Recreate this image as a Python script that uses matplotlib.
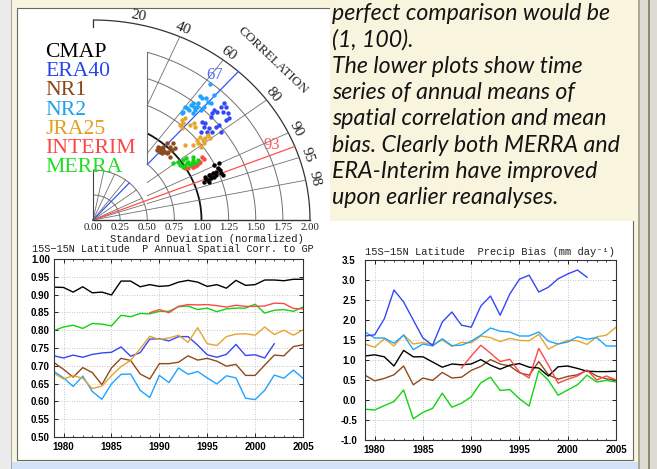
import numpy as np
import matplotlib
matplotlib.use('Agg')
import matplotlib.pyplot as plt
from matplotlib.patches import Rectangle

W, H = 657, 469

# ---------------- data ----------------
names = ['CMAP', 'ERA40', 'NR1', 'NR2', 'JRA25', 'INTERIM', 'MERRA']
line_colors = {'CMAP': '#000000', 'ERA40': '#3447f5', 'NR1': '#8e4a1c', 'NR2': '#1ea4ff',
               'JRA25': '#e6a52c', 'INTERIM': '#ff4848', 'MERRA': '#12d312'}
label_colors = {'CMAP': '#000000', 'ERA40': '#2447e8', 'NR1': '#8b4513', 'NR2': '#1ea0f0',
                'JRA25': '#e0a020', 'INTERIM': '#ff4444', 'MERRA': '#22dd22'}

# Taylor diagram points: normalized standard deviation and correlation
taylor_std = {
    'CMAP': [1.240, 1.290, 1.260, 1.266, 1.276, 1.228, 1.198, 1.156, 1.123, 1.129, 1.162, 1.191,
             1.087, 1.131, 1.216, 1.173, 1.123, 1.270],
    'ERA40': [1.679, 1.664, 1.631, 1.576, 1.610, 1.639, 1.613, 1.579, 1.536, 1.407, 1.420, 1.380,
              1.374, 1.410, 1.497, 1.469, 1.463, 1.325, 1.407, 1.563, 1.495],
    'NR1': [0.950, 0.976, 1.031, 1.020, 0.972, 0.952, 0.926, 0.917, 1.012, 1.069, 0.951, 0.958,
            0.920, 0.954, 0.946, 1.046],
    'NR2': [1.733, 1.583, 1.601, 1.672, 1.583, 1.594, 1.521, 1.461, 1.459, 1.418, 1.351, 1.364,
            1.409, 1.485, 1.521, 1.481, 1.409, 1.450, 1.415, 1.487, 1.587],
    'JRA25': [1.296, 1.279, 1.307, 1.235, 1.246, 1.329, 1.341, 1.325, 1.293, 1.252, 1.288, 1.322,
              1.240, 1.277, 1.358, 1.191, 1.135, 1.356, 1.231],
    'INTERIM': [1.190, 1.148, 1.109, 1.059, 1.022, 1.188, 1.088, 1.127, 1.067, 0.998],
    'MERRA': [0.935, 1.027, 1.113, 1.054, 1.080, 1.103, 0.987, 0.976, 1.053, 1.040, 1.135, 0.977,
              1.014, 1.103, 1.061],
}
taylor_corr = {
    'CMAP': [0.896, 0.897, 0.911, 0.929, 0.936, 0.920, 0.920, 0.921, 0.923, 0.935, 0.932, 0.933,
             0.937, 0.942, 0.929, 0.923, 0.931, 0.919],
    'ERA40': [0.717, 0.734, 0.721, 0.728, 0.742, 0.757, 0.775, 0.774, 0.717, 0.717, 0.730, 0.738,
              0.768, 0.781, 0.773, 0.801, 0.772, 0.748, 0.757, 0.711, 0.725],
    'NR1': [0.653, 0.664, 0.665, 0.699, 0.714, 0.700, 0.690, 0.646, 0.722, 0.693, 0.750, 0.715,
            0.674, 0.679, 0.636, 0.726],
    'NR2': [0.620, 0.637, 0.648, 0.665, 0.667, 0.680, 0.639, 0.634, 0.616, 0.614, 0.610, 0.611,
            0.651, 0.648, 0.670, 0.669, 0.625, 0.651, 0.602, 0.617, 0.624],
    'JRA25': [0.636, 0.651, 0.687, 0.667, 0.647, 0.641, 0.691, 0.712, 0.766, 0.769, 0.784, 0.784,
              0.784, 0.798, 0.797, 0.777, 0.751, 0.779, 0.805],
    'INTERIM': [0.848, 0.863, 0.868, 0.866, 0.861, 0.858, 0.868, 0.863, 0.868, 0.854],
    'MERRA': [0.793, 0.811, 0.824, 0.835, 0.849, 0.856, 0.844, 0.826, 0.853, 0.837, 0.849, 0.805,
              0.840, 0.839, 0.811],
}
std_circles = [0.25, 0.5, 0.75, 1.0, 1.25, 1.5, 1.75, 2.0]
std_tick_labels = ['0.00', '0.25', '0.50', '0.75', '1.00', '1.25', '1.50', '1.75', '2.00']
corr_lines = [0.2, 0.4, 0.6, 0.8, 0.9, 0.95, 0.98]
corr_labels = ['20', '40', '60', '80', '90', '95', '98']
blue_ref_corr = 0.67
red_ref_corr = 0.93

# Time series (annual means)
years_all = list(range(1979, 2006))
years_era40 = list(range(1979, 2003))
years_interim = list(range(1989, 2006))

corr_ts = {
    'CMAP': [0.921, 0.920, 0.907, 0.922, 0.905, 0.907, 0.899, 0.938, 0.938, 0.922, 0.928, 0.923,
             0.925, 0.935, 0.940, 0.935, 0.923, 0.928, 0.918, 0.940, 0.926, 0.928, 0.941, 0.941,
             0.939, 0.943, 0.943],
    'INTERIM': [0.849, 0.858, 0.849, 0.867, 0.872, 0.871, 0.872, 0.869, 0.865, 0.870, 0.867,
                0.867, 0.868, 0.876, 0.875, 0.861, 0.860],
    'MERRA': [0.799, 0.809, 0.814, 0.805, 0.819, 0.817, 0.812, 0.842, 0.838, 0.847, 0.846, 0.853,
              0.853, 0.866, 0.868, 0.858, 0.862, 0.852, 0.860, 0.862, 0.862, 0.873, 0.848, 0.856,
              0.858, 0.853, 0.865],
    'JRA25': [0.679, 0.663, 0.672, 0.665, 0.636, 0.643, 0.672, 0.698, 0.715, 0.748, 0.783, 0.774,
              0.778, 0.786, 0.766, 0.807, 0.762, 0.757, 0.782, 0.789, 0.790, 0.786, 0.809, 0.788,
              0.800, 0.786, 0.801],
    'ERA40': [0.728, 0.722, 0.730, 0.724, 0.732, 0.736, 0.738, 0.753, 0.727, 0.737, 0.775, 0.776,
              0.770, 0.782, 0.782, 0.758, 0.731, 0.724, 0.732, 0.760, 0.729, 0.731, 0.722, 0.762],
    'NR1': [0.709, 0.690, 0.668, 0.695, 0.681, 0.647, 0.694, 0.721, 0.715, 0.677, 0.663, 0.706,
            0.706, 0.710, 0.728, 0.716, 0.721, 0.713, 0.699, 0.704, 0.673, 0.673, 0.702, 0.730,
            0.728, 0.754, 0.759],
    'NR2': [0.684, 0.666, 0.642, 0.671, 0.628, 0.606, 0.649, 0.676, 0.677, 0.631, 0.611, 0.673,
            0.653, 0.694, 0.676, 0.684, 0.666, 0.649, 0.672, 0.666, 0.609, 0.605, 0.631, 0.674,
            0.665, 0.688, 0.665],
}
bias_ts = {
    'ERA40': [1.60, 1.63, 2.03, 2.75, 2.45, 2.00, 1.55, 1.37, 1.95, 2.20, 1.87, 1.82, 2.35, 2.60,
              2.12, 2.65, 3.02, 3.12, 2.70, 2.82, 3.03, 3.15, 3.25, 3.07],
    'NR2': [1.70, 1.55, 1.55, 1.42, 1.62, 1.26, 1.40, 1.35, 1.53, 1.36, 1.37, 1.47, 1.62, 1.80,
            1.72, 1.70, 1.60, 1.60, 1.70, 1.47, 1.40, 1.45, 1.58, 1.52, 1.56, 1.35, 1.35],
    'JRA25': [1.40, 1.32, 1.53, 1.35, 1.63, 1.40, 1.44, 1.38, 1.50, 1.34, 1.44, 1.43, 1.60, 1.56,
              1.46, 1.54, 1.49, 1.48, 1.64, 1.27, 1.40, 1.49, 1.48, 1.39, 1.58, 1.62, 1.82],
    'CMAP': [1.10, 1.13, 1.08, 0.85, 1.24, 1.08, 1.08, 0.95, 0.82, 0.90, 0.88, 0.90, 1.01, 0.87,
             0.77, 0.87, 0.91, 0.82, 0.80, 0.60, 0.83, 0.85, 0.79, 0.72, 0.71, 0.71, 0.72],
    'NR1': [0.62, 0.48, 0.54, 0.63, 0.85, 0.38, 0.55, 0.49, 0.69, 0.55, 0.57, 0.74, 0.84, 1.01,
            0.90, 0.85, 0.68, 0.62, 0.96, 0.63, 0.52, 0.59, 0.63, 0.74, 0.60, 0.53, 0.50],
    'INTERIM': [0.80, 1.10, 1.37, 1.17, 0.96, 1.02, 0.70, 0.55, 1.29, 0.87, 0.42, 0.52, 0.60,
                0.75, 0.50, 0.60, 0.50],
    'MERRA': [-0.23, -0.25, -0.14, -0.04, 0.25, -0.47, -0.31, -0.21, 0.17, -0.18, -0.08, 0.08,
              0.43, 0.57, 0.24, 0.26, 0.03, -0.15, 0.73, 0.49, 0.12, 0.25, 0.38, 0.62, 0.45, 0.49,
              0.45],
}
series_years = {'ERA40': years_era40, 'INTERIM': years_interim}

left_title = '15S\u221215N Latitude  P Annual Spatial Corr. to GP'
right_title = '15S\u221215N Latitude  Precip Bias (mm day\u207b\u00b9)'
corr_yticks = [0.50, 0.55, 0.60, 0.65, 0.70, 0.75, 0.80, 0.85, 0.90, 0.95, 1.00]
bias_yticks = [-1.0, -0.5, 0.0, 0.5, 1.0, 1.5, 2.0, 2.5, 3.0, 3.5]
year_ticks = [1980, 1985, 1990, 1995, 2000, 2005]

text_lines = ['perfect comparison would be', '(1, 100).', 'The lower plots show time',
              'series of annual means of', 'spatial correlation and mean',
              'bias. Clearly both MERRA and', 'ERA-Interim have improved',
              'upon earlier reanalyses.']

# ---------------- figure & background ----------------
CREAM = '#f8f4de'
fig = plt.figure(figsize=(W / 100, H / 100), dpi=100, facecolor=CREAM)


def fx(px):
    return px / W


def fy(py):
    return 1 - py / H


def frect(x0, y0, x1, y1, **kw):
    r = Rectangle((fx(x0), fy(y1)), fx(x1) - fx(x0), fy(y0) - fy(y1),
                  transform=fig.transFigure, **kw)
    fig.add_artist(r)
    return r


frect(0, 0, 10.5, H, facecolor='#ececec', edgecolor='none', zorder=-3)
frect(10.5, 0, 11.5, H, facecolor='#a4a4a4', edgecolor='none', zorder=-3)
frect(11.5, 462, 640, H, facecolor='#d3e2f7', edgecolor='none', zorder=-3)
frect(638, 0, W, H, facecolor='#dcdcd2', edgecolor='none', zorder=-3)
frect(638, 0, 639.5, H, facecolor='#a8a894', edgecolor='none', zorder=-3)
frect(648, 0, 650, H, facecolor='#8c8c74', edgecolor='none', zorder=-3)
frect(16.5, 8.5, 633, 460, facecolor='white', edgecolor='#666666', linewidth=0.8, zorder=-2)
frect(330, 0, 636.5, 221, facecolor=CREAM, edgecolor='none', zorder=2)

# ---------------- Taylor diagram ----------------
OX, OY, XS, YS = 93.0, 220.0, 108.5, 100.0
axt = fig.add_axes([fx(20), fy(245), 305 / W, 235 / H])
axt.set_xlim((20 - OX) / XS, (325 - OX) / XS)
axt.set_ylim((OY - 245) / YS, (OY - 10) / YS)
axt.axis('off')
axt.patch.set_visible(False)

GRID = '#707070'
for r in std_circles:
    if r <= 0.5 or r >= 2.0:
        t = np.linspace(0, np.pi / 2, 200)
    else:
        t = np.linspace(0, np.arccos(0.5 / r), 200)
    if r == 1.0:
        col, lw = '#111111', 1.3
    elif r == 2.0:
        col, lw = '#333333', 0.9
    else:
        col, lw = GRID, 0.7
    axt.plot(r * np.cos(t), r * np.sin(t), color=col, lw=lw, solid_capstyle='butt')


def radial(c, r0, r1, **kw):
    th = np.arccos(c)
    axt.plot([r0 * np.cos(th), r1 * np.cos(th)], [r0 * np.sin(th), r1 * np.sin(th)], **kw)


for c in corr_lines:
    radial(c, 0, 0.5, color=GRID, lw=0.6)
    rs = 0.5 / c
    if rs < 2.0:
        radial(c, rs, 2.0, color=GRID, lw=0.6)

radial(blue_ref_corr, 0, 0.5, color='#3355ff', lw=0.9)
radial(blue_ref_corr, 0.5 / blue_ref_corr, 2.0, color='#3355ff', lw=0.9)
radial(red_ref_corr, 0, 2.0, color='#ff5050', lw=0.9)

axt.plot([0, 2.0], [0, 0], color='#333333', lw=1.0)
axt.plot([0, 0], [0, 0.5], color='#444444', lw=0.8)
axt.plot([0, 0], [1.93, 2.0], color='#333333', lw=0.9)
axt.plot([0.5, 0.5], [np.sqrt(0.75 ** 2 - 0.25), np.sqrt(1.75 ** 2 - 0.25)], color=GRID, lw=0.8)

for nm in ['NR2', 'ERA40', 'JRA25', 'NR1', 'INTERIM', 'MERRA', 'CMAP']:
    s = np.array(taylor_std[nm])
    c = np.array(taylor_corr[nm])
    axt.scatter(s * c, s * np.sqrt(1 - c ** 2), s=10, color=line_colors[nm], linewidths=0,
                zorder=5)

SERIF = 'Liberation Serif'
leg_baselines = [1.63, 1.438, 1.246, 1.054, 0.862, 0.670, 0.478]
for nm, yb in zip(names, leg_baselines):
    axt.text(-0.442, yb, nm, color=label_colors[nm], fontsize=15.6, family=SERIF,
             ha='left', va='baseline')

for c, lab in zip(corr_lines, corr_labels):
    th = np.arccos(c)
    rot = np.degrees(np.arctan2(-np.cos(th) * YS, np.sin(th) * XS))
    axt.text(2.02 * np.cos(th), 2.02 * np.sin(th), lab, rotation=rot, rotation_mode='anchor',
             ha='center', va='bottom', fontsize=11, family=SERIF, color='#222222')
th = np.radians(44)
axt.text(2.30 * np.cos(th), 2.30 * np.sin(th), 'CORRELATION',
         rotation=np.degrees(np.arctan2(-np.cos(th) * YS, np.sin(th) * XS)),
         rotation_mode='anchor', ha='center', va='center', fontsize=9.5, family=SERIF,
         color='#222222')

axt.text(1.124, 1.45, '67', color='#5566ff', fontsize=12, family=SERIF, ha='center', va='center')
axt.text(1.645, 0.75, '93', color='#ff5a5a', fontsize=12, family=SERIF, ha='center', va='center')

for v, lab in zip(np.arange(0, 2.001, 0.25), std_tick_labels):
    axt.text(v, -0.08, lab, ha='center', va='center', fontsize=7.8, family=SERIF,
             color='#222222')
axt.text(1.05, -0.186, 'Standard Deviation (normalized)', ha='center', va='center',
         fontsize=7.6, family='Liberation Mono', color='#222222')

# ---------------- time series ----------------
MONO = ['Liberation Mono', 'DejaVu Sans Mono']


def setup_ts(ax, ylim, yticks, fmt, ypad, yha):
    ax.set_xlim(1979, 2005)
    ax.set_ylim(*ylim)
    ax.set_xticks(year_ticks, labels=[str(y) for y in year_ticks], fontweight='bold',
                  fontfamily='Liberation Sans', fontsize=7)
    ax.set_xticks(years_all, minor=True)
    ax.set_yticks(yticks, labels=[fmt % v for v in yticks], fontweight='bold',
                  fontfamily='Liberation Sans', fontsize=7)
    for lbl in ax.get_yticklabels():
        lbl.set_ha(yha)
    ax.grid(True, which='major', color='#b4b4b4', linestyle=(0, (1, 2)), lw=0.6)
    ax.tick_params(which='major', direction='in', length=3, width=0.6, top=True, right=True)
    ax.tick_params(axis='x', which='major', pad=3.5)
    ax.tick_params(axis='y', which='major', pad=ypad)
    ax.tick_params(which='minor', direction='in', length=1.5, width=0.5, top=True)
    for sp in ax.spines.values():
        sp.set_color('#333333')
        sp.set_linewidth(0.8)


axl = fig.add_axes([fx(54), fy(437), 249 / W, 178 / H])
for nm in ['NR2', 'NR1', 'ERA40', 'JRA25', 'MERRA', 'INTERIM', 'CMAP']:
    axl.plot(series_years.get(nm, years_all), corr_ts[nm], color=line_colors[nm], lw=1.0)
setup_ts(axl, (0.5, 1.0), corr_yticks, '%.2f', 3, 'right')
fig.text(fx(172.5), fy(252.3), left_title, ha='center', va='baseline', fontsize=7.35,
         family=MONO, color='#222222')

axr = fig.add_axes([fx(365), fy(440), 251 / W, 180 / H])
for nm in ['MERRA', 'NR1', 'CMAP', 'INTERIM', 'JRA25', 'NR2', 'ERA40']:
    axr.plot(series_years.get(nm, years_all), bias_ts[nm], color=line_colors[nm], lw=1.0)
setup_ts(axr, (-1.0, 3.5), bias_yticks, '%.1f', 11.5, 'center')
fig.text(fx(490), fy(255), right_title, ha='center', va='baseline', fontsize=7.5,
         family=MONO, color='#222222')

# ---------------- text block ----------------
renderer = fig.canvas.get_renderer()
base = 15.0
probe = fig.text(0, 0, text_lines[0], fontsize=base, family='Lato', style='italic')
wpx = probe.get_window_extent(renderer).width
probe.remove()
fsize = base * 278.0 / wpx
for i, line in enumerate(text_lines):
    fig.text(fx(332), fy(20.5 + 26.2 * i), line, ha='left', va='baseline', fontsize=fsize,
             family='Lato', style='italic', color='#141414', zorder=4)

fig.savefig('out.png', dpi=100, facecolor=CREAM)
